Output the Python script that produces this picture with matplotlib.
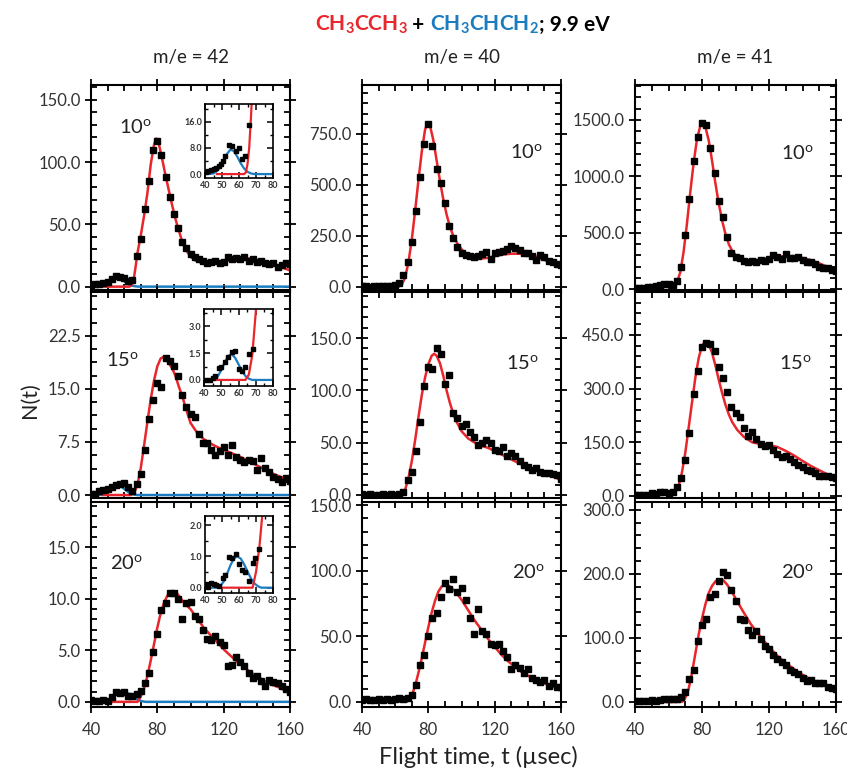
import numpy as np
import matplotlib
matplotlib.use('Agg')
import matplotlib.pyplot as plt
from matplotlib.ticker import MultipleLocator, AutoMinorLocator, FormatStrFormatter
from matplotlib.offsetbox import TextArea, HPacker, AnchoredOffsetbox

plt.rcParams['font.family'] = ['Lato', 'DejaVu Sans']
plt.rcParams['mathtext.default'] = 'regular'

RED = '#e8262b'
BLUE = '#1b7cc0'

# flight times of the data points (usec)
t = np.arange(40, 160.1, 2.5)

# ---- measured N(t) ----
n42_10 = [1, 2, 2, 3, 4, 6, 8.5, 8, 7, 4.5,
          5, 25, 38, 62, 85, 110, 117, 106, 88, 72,
          58, 47, 36, 31, 26, 24, 22, 21, 19, 20,
          21, 19, 20, 24, 22, 23, 22, 24, 21, 22,
          20, 21, 19, 18, 19, 16, 17, 19, 18]
n40_10 = [2, 3, 1, 4, 2, 3, 5, 4, 8, 20,
          60, 120, 220, 370, 540, 700, 800, 690, 580, 510,
          410, 300, 240, 195, 165, 155, 150, 145, 150, 160,
          170, 135, 165, 172, 175, 185, 198, 190, 180, 168,
          165, 150, 130, 155, 145, 128, 120, 112, 105]
n41_10 = [8, 12, 15, 18, 22, 28, 40, 50, 45, 40,
          70, 200, 480, 800, 1140, 1350, 1470, 1460, 1250, 1030,
          780, 640, 460, 320, 290, 280, 255, 240, 255, 245,
          260, 250, 270, 300, 290, 270, 310, 280, 275, 290,
          260, 240, 245, 225, 200, 185, 190, 170, 165]
n42_15 = [0.1, 0.2, 0.5, 0.7, 0.9, 1.1, 1.4, 1.6, 1.7, 1.1,
          0.6, 1.6, 3.0, 6.3, 10.8, 13.5, 15.8, 15.3, 19.3, 19.0,
          18.2, 16.8, 14.2, 12.4, 11.5, 11.1, 8.6, 7.3, 7.4, 6.4,
          5.6, 6.2, 6.8, 5.7, 7.1, 5.4, 5.0, 4.7, 5.0, 4.8,
          3.5, 5.2, 3.8, 3.3, 2.6, 2.2, 1.9, 2.4, 2.0]
n40_15 = [1, 0, 1, 0, 0, 1, 0, 1, 0, 1,
          3, 14, 22, 42, 70, 104, 122, 120, 140, 135,
          106, 115, 78, 74, 66, 68, 60, 55, 48, 50,
          53, 50, 43, 42, 46, 37, 40, 37, 32, 29,
          27, 24, 26, 22, 21, 20.7, 20, 19, 15]
n41_15 = [2, 3, 2, 4, 8, 6, 10, 12, 9, 11,
          25, 50, 100, 175, 285, 350, 415, 427, 425, 405,
          360, 330, 290, 250, 232, 222, 190, 168, 178, 160,
          145, 140, 142, 128, 118, 110, 112, 102, 94, 88,
          80, 74, 70, 65, 57, 55, 57, 54, 50]
n42_20 = [0.2, 0.1, 0.1, 0.2, 0.1, 0.5, 1.0, 0.85, 1.0, 0.6,
          0.6, 0.8, 1.1, 1.8, 2.8, 4.8, 6.6, 8.9, 9.6, 10.6,
          10.6, 10.0, 8.0, 9.6, 9.7, 8.3, 8.0, 7.0, 6.1, 6.0,
          6.4, 5.8, 5.5, 3.5, 3.6, 4.4, 3.9, 3.5, 2.8, 2.3,
          2.5, 2.0, 1.5, 2.1, 1.9, 1.8, 1.5, 1.2, 1.0]
n40_20 = [1, 2, 1, 1, 2, 1, 2, 1, 2, 3,
          2, 2.5, 5, 13, 28, 36, 50, 64, 68, 80,
          91, 86, 94, 84, 87, 78, 64, 52, 71, 54,
          52, 44, 43, 44, 39, 34, 25, 28, 26, 22,
          25, 18, 17, 15, 17, 12, 14, 11, 11]
n41_20 = [1, 2, 1, 2, 3, 2, 3, 4, 5, 5,
          5, 8, 16, 35, 50, 95, 120, 130, 164, 168,
          188, 203, 198, 175, 158, 130, 128, 112, 104, 110,
          98, 88, 82, 73, 67, 62, 57, 50, 47, 43,
          37, 32, 34, 30, 30, 30, 24, 22, 20]

# ---- fits: CH3CCH3 (red) ----
fit42_10_t = [47, 63, 64, 65, 66, 67, 68, 70, 72, 74, 76, 78, 79.3, 81, 83, 85, 87, 89, 91, 93,
              95, 97, 100, 103, 106, 110, 115, 120, 126, 131, 136, 141, 146, 151, 156, 160]
fit42_10 = [0, 0, 0.5, 3, 8, 17, 27, 41, 57, 75, 98, 114, 119, 114, 102, 89, 77, 65, 54, 45,
            36, 30, 24, 21, 19.5, 19.5, 20, 20.5, 21.5, 22.5, 22.5, 21, 19, 17.5, 15, 13]
fit40_10_t = [48, 62, 64, 66, 68, 70, 72, 74, 76, 78, 79.5, 81, 83, 85, 87, 89, 91, 93, 95, 98,
              101, 104, 108, 112, 116, 120, 125, 130, 135, 140, 145, 150, 155, 160]
fit40_10 = [0, 0, 10, 45, 120, 230, 370, 520, 660, 770, 805, 790, 720, 620, 520, 430, 355, 295, 250, 205,
            175, 155, 142, 138, 142, 150, 158, 162, 162, 158, 148, 132, 112, 90]
fit41_10_t = [48, 55, 60, 63, 65, 67, 69, 71, 73, 75, 77, 79, 80.5, 82, 84, 86, 88, 90, 92, 94,
              96, 98, 101, 105, 110, 115, 120, 125, 130, 135, 140, 145, 150, 155, 160]
fit41_10 = [0, 15, 25, 30, 60, 150, 330, 580, 860, 1120, 1330, 1450, 1470, 1440, 1320, 1140, 940, 760, 610, 490,
            400, 340, 290, 262, 255, 262, 275, 288, 295, 290, 278, 258, 230, 198, 165]
fit42_15_t = [47, 64, 66, 68, 70, 72, 74, 76, 78, 80, 82, 83.5, 85, 87, 89, 91, 93, 95, 97, 100,
              104, 108, 112, 116, 120, 125, 130, 135, 140, 145, 150, 155, 160]
fit42_15 = [0, 0, 0.3, 1.4, 3.8, 7.0, 10.3, 13.5, 16.2, 18.2, 19.3, 19.5, 19.3, 18.6, 17.9, 16.8, 15.3, 14.0, 12.4, 10.2,
            8.8, 7.9, 7.3, 6.8, 6.4, 5.9, 5.4, 4.8, 4.2, 3.6, 3.0, 2.5, 1.9]
fit40_15_t = [48, 64, 66, 68, 70, 72, 74, 76, 78, 80, 82, 83.5, 85, 87, 89, 91, 93, 95, 97, 100,
              104, 108, 112, 116, 120, 125, 130, 135, 140, 145, 150, 155, 160]
fit40_15 = [0, 0, 5, 16, 32, 52, 74, 95, 112, 125, 133, 135, 133, 126, 114, 100, 88, 78, 70, 61,
            54, 50, 47, 45, 42, 38, 34, 30, 27, 24, 21, 18, 14]
fit41_15_t = [48, 55, 62, 64, 66, 68, 70, 72, 74, 76, 78, 80, 82, 84, 86, 88, 90, 92, 94, 96,
              98, 101, 105, 110, 115, 120, 125, 130, 135, 140, 145, 150, 155, 160]
fit41_15 = [0, 3, 5, 10, 28, 65, 120, 190, 260, 330, 385, 420, 432, 425, 400, 365, 325, 288, 255, 228,
            207, 185, 165, 150, 145, 142, 137, 126, 113, 98, 84, 72, 60, 48]
fit42_20_t = [48, 68, 70, 72, 74, 76, 78, 80, 82, 84, 86, 88, 90, 92, 94, 96, 100, 104, 108, 112,
              116, 120, 124, 128, 132, 136, 140, 144, 148, 152, 156, 160]
fit42_20 = [0, 0, 0.5, 1.3, 2.5, 4.0, 5.6, 7.2, 8.6, 9.6, 10.3, 10.6, 10.7, 10.5, 10.1, 9.6, 9.0, 8.1, 7.2, 6.5,
            5.8, 5.1, 4.5, 3.9, 3.4, 2.9, 2.5, 2.1, 1.7, 1.5, 1.2, 1.0]
fit40_20_t = [48, 67, 68, 70, 72, 74, 76, 78, 80, 82, 84, 86, 88, 90, 92, 94, 97, 100, 104, 108,
              112, 116, 120, 124, 128, 132, 136, 140, 144, 148, 152, 156, 160]
fit40_20 = [0, 0, 1, 5, 12, 22, 33, 45, 57, 68, 77, 84, 88, 89.5, 89, 87, 83, 78, 70, 62,
            55, 48, 42, 36, 31, 27, 23, 20, 17, 15, 13, 11, 9.5]
fit41_20_t = [48, 68, 69, 70, 72, 74, 76, 78, 80, 82, 84, 86, 88, 90, 91.5, 93, 95, 98, 101, 105,
              109, 113, 117, 121, 125, 129, 133, 137, 141, 145, 149, 153, 157, 160]
fit41_20 = [0, 0, 2, 6, 20, 45, 75, 105, 130, 152, 170, 181, 188, 191, 191.5, 189, 183, 171, 157, 139,
            122, 108, 95, 83, 72, 63, 55, 47, 41, 35, 31, 27, 23, 21]

# ---- fits: CH3CHCH2 (blue), m/e = 42 only ----
blue42_10_t = [40, 43, 45, 47, 49, 51, 53, 55, 57, 59, 61, 63, 65, 67, 69, 160]
blue42_10 = [0, 0.05, 0.2, 0.9, 2.1, 4.0, 6.2, 7.5, 7.0, 5.3, 3.3, 1.7, 0.7, 0.2, 0, 0]
blue42_15_t = [40, 46, 48, 50, 52, 54, 56, 58, 60, 62, 64, 66, 68, 160]
blue42_15 = [0, 0.03, 0.2, 0.55, 0.98, 1.35, 1.45, 1.25, 0.88, 0.5, 0.22, 0.07, 0, 0]
blue42_20_t = [40, 47, 49, 51, 53, 55, 57, 59, 61, 63, 65, 67, 69, 71, 73, 160]
blue42_20 = [0, 0, 0.05, 0.2, 0.45, 0.72, 0.93, 1.0, 0.93, 0.75, 0.52, 0.3, 0.14, 0.05, 0, 0]

# ---- inset data (m/e = 42, finer bins) ----
ins42_10_t = [40.5, 42, 43.5, 45, 46.5, 48, 49.5, 50.5, 52, 54, 56, 58, 60, 62, 63.5, 66]
ins42_10 = [0.7, 1.0, 1.2, 1.5, 1.9, 2.5, 3.0, 4.0, 5.5, 9.0, 8.7, 7.0, 8.0, 4.5, 5.5, 15]
ins42_15_t = [41, 43.5, 45, 46.5, 48.5, 50, 52, 54, 56, 58, 60, 62, 64, 66, 68.5]
ins42_15 = [0, 0, 0.1, 0.24, 0.67, 0.74, 0.98, 1.26, 1.57, 1.63, 0.61, 0.52, 0.74, 1.48, 1.72]
ins42_20_t = [40.5, 42, 43.5, 45, 46.5, 48.5, 50.5, 52, 54, 56, 58, 60, 61.5, 63.5, 66, 68, 69.5, 71.5]
ins42_20 = [0.12, 0.03, 0.15, 0.13, 0.08, 0.05, 0.3, 0.4, 0.97, 0.95, 1.06, 0.75, 0.55, 0.5, 0.22, 0.8, 0.95, 1.25]

masses = ['42', '40', '41']
angles = ['10', '15', '20']

W, H = 847, 772
fig = plt.figure(figsize=(W / 100, H / 100), dpi=100)


def px_axes(left, top, right, bottom):
    return fig.add_axes([left / W, 1 - bottom / H, (right - left) / W, (bottom - top) / H])


rows = [(85, 290), (292, 498), (502, 707)]
cols = [(91, 290), (362, 561), (635, 836)]

# (row, col, data, red t, red, blue t, blue, ylim, major step, minor divisions, label pos)
panels = [
    (0, 0, n42_10, fit42_10_t, fit42_10, blue42_10_t, blue42_10, (-2.7, 162), 50, 5, (135, 127)),
    (0, 1, n40_10, fit40_10_t, fit40_10, None, None, (-16, 990), 250, 5, (526, 152)),
    (0, 2, n41_10, fit41_10_t, fit41_10, None, None, (-6, 1810), 500, 5, (797, 153)),
    (1, 0, n42_15, fit42_15_t, fit42_15, blue42_15_t, blue42_15, (-0.42, 28.7), 7.5, 4, (122, 360)),
    (1, 1, n40_15, fit40_15_t, fit40_15, None, None, (-2.9, 194), 50, 5, (522, 363)),
    (1, 2, n41_15, fit41_15_t, fit41_15, None, None, (-5.6, 570), 150, 5, (795, 363)),
    (2, 0, n42_20, fit42_20_t, fit42_20, blue42_20_t, blue42_20, (-0.5, 19.4), 5, 5, (126, 563)),
    (2, 1, n40_20, fit40_20_t, fit40_20, None, None, (-4, 152.6), 50, 5, (528, 572)),
    (2, 2, n41_20, fit41_20_t, fit41_20, None, None, (-8, 312), 100, 5, (797, 572)),
]


def style_ticks(ax, major_len, minor_len, size, width=1.3):
    ax.tick_params(which='major', direction='inout', length=major_len, width=width,
                   top=True, right=True, labelsize=size, pad=3)
    ax.tick_params(which='minor', direction='in', length=minor_len, width=width,
                   top=True, right=True)
    for s in ax.spines.values():
        s.set_linewidth(1.5)


for r, c, data, ft, fv, bt, bv, ylim, ymaj, ydiv, lab in panels:
    ax = px_axes(cols[c][0], rows[r][0], cols[c][1], rows[r][1])
    if bt is not None:
        ax.plot(bt, bv, color=BLUE, lw=1.8, zorder=2)
    ax.plot(ft, fv, color=RED, lw=1.8, zorder=2)
    ax.plot(t, data, 's', color='black', ms=3.8, zorder=3)
    ax.set_xlim(40, 160)
    ax.set_ylim(*ylim)
    ax.xaxis.set_major_locator(MultipleLocator(40))
    ax.xaxis.set_minor_locator(MultipleLocator(10))
    ax.yaxis.set_major_locator(MultipleLocator(ymaj))
    ax.yaxis.set_minor_locator(AutoMinorLocator(ydiv))
    ax.yaxis.set_major_formatter(FormatStrFormatter('%.1f'))
    style_ticks(ax, 9, 4.5, 12)
    for lbl in ax.get_yticklabels() + ax.get_xticklabels():
        lbl.set_color('#333333')
    if r < 2:
        ax.tick_params(labelbottom=False)
    else:
        ax.tick_params(axis='x', pad=6)
    fig.text(lab[0] / W, 1 - lab[1] / H, angles[r] + r'$^{o}$', fontsize=14.5,
             ha='center', va='center', color='#222222')

# insets for m/e = 42
insets = [
    ((205, 104, 273, 178), ins42_10_t, ins42_10, fit42_10_t, fit42_10, blue42_10_t, blue42_10, (-1.2, 21.4), 8),
    ((204, 309, 273, 386), ins42_15_t, ins42_15, fit42_15_t, fit42_15, blue42_15_t, blue42_15, (-0.34, 3.98), 1.5),
    ((205, 516, 273, 593), ins42_20_t, ins42_20, fit42_20_t, fit42_20, blue42_20_t, blue42_20, (-0.17, 2.29), 1.0),
]
for box, it, iv, ft, fv, bt, bv, ylim, ymaj in insets:
    ax = px_axes(*box)
    ax.plot(bt, bv, color=BLUE, lw=1.6, zorder=2)
    ax.plot(ft, fv, color=RED, lw=1.6, zorder=2)
    ax.plot(it, iv, 's', color='black', ms=2.8, zorder=3)
    ax.set_xlim(40, 80)
    ax.set_ylim(*ylim)
    ax.xaxis.set_major_locator(MultipleLocator(10))
    ax.xaxis.set_minor_locator(MultipleLocator(5))
    ax.yaxis.set_major_locator(MultipleLocator(ymaj))
    ax.yaxis.set_minor_locator(AutoMinorLocator(2))
    ax.yaxis.set_major_formatter(FormatStrFormatter('%.1f'))
    ax.tick_params(which='major', direction='in', length=4.5, width=1.1,
                   top=True, right=True, labelsize=6.5, pad=2)
    ax.tick_params(which='minor', direction='in', length=2.5, width=1.0, top=True, right=True)
    for lbl in ax.get_xticklabels() + ax.get_yticklabels():
        lbl.set_fontweight('bold')
        lbl.set_color('#333333')
    for s in ax.spines.values():
        s.set_linewidth(1.2)

# column headers
for c, m in enumerate(masses):
    fig.text((cols[c][0] + cols[c][1]) / 2 / W, 1 - 57 / H, 'm/e = ' + m,
             fontsize=13.5, ha='center', va='center', color='#222222')

fig.text(30 / W, 1 - 400 / H, 'N(t)', rotation=90, fontsize=15.5,
         ha='center', va='center', color='#222222')
fig.text(478 / W, 1 - 757 / H, 'Flight time, t (\u00b5sec)', fontsize=17,
         ha='center', va='center', color='#222222')

# coloured title
parts = [(r'CH$_3$CCH$_3$', RED), (' + ', 'black'), (r'CH$_3$CHCH$_2$', BLUE), ('; 9.9 eV', 'black')]
boxes = [TextArea(s, textprops=dict(color=col, fontsize=15, fontweight='bold')) for s, col in parts]
pack = HPacker(children=boxes, align='baseline', pad=0, sep=0)
title = AnchoredOffsetbox(loc='center', child=pack, frameon=False, pad=0, borderpad=0,
                          bbox_to_anchor=(462 / W, 1 - 25 / H), bbox_transform=fig.transFigure)
fig.add_artist(title)

fig.savefig('out.png', dpi=100)
